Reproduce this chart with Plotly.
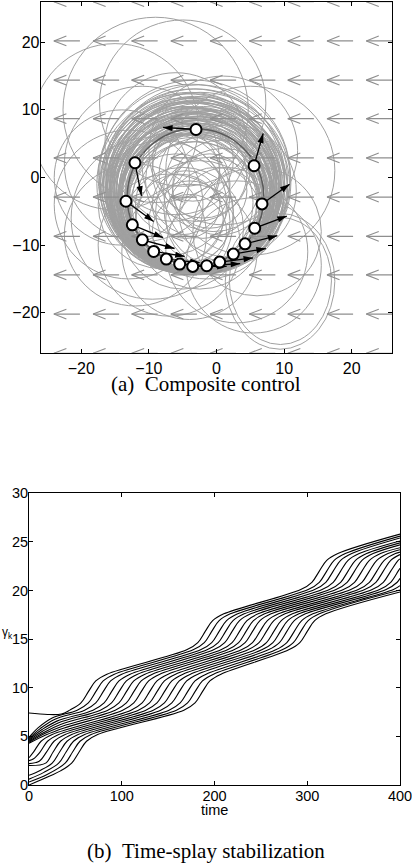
import math
import plotly.graph_objects as go

# ================= Panel (a): composite control =================
field_grid = [-26.0, -20.2, -14.4, -8.7, -2.9, 2.9, 8.7, 14.4, 20.2, 26.0]

formation_cx, formation_cy, formation_r = -3.1, -2.9, 10.1

particle_x = [-3.03, -12.06, 5.55, -13.39, 6.73, -12.45, 5.65, -10.97,
              4.22, -9.29, 2.49, -7.42, 0.47, -5.44, -3.52, -1.45]
particle_y = [7.10, 2.18, 1.74, -3.51, -3.91, -7.00, -7.50, -9.22,
              -9.81, -10.94, -11.33, -12.07, -12.51, -12.81, -13.15, -13.05]
heading_tip_x = [-7.9, -11.1, 6.9, -9.3, 10.8, -7.9, 10.4, -6.2,
                 9.0, -4.7, 7.3, -2.5, 5.4, -0.45, 1.5, 3.5]
heading_tip_y = [7.4, -2.7, 6.5, -6.5, -1.0, -8.9, -5.7, -10.5,
                 -8.6, -11.65, -10.5, -12.6, -11.9, -13.1, -13.15, -12.75]

# trajectory loops (centre x, centre y, radius)
trail_cx = [
    # dense band
    -3.1, -3.6, -2.7, -3.9, -2.9, -3.4, -4.2, -2.5, -3.2, -3.8, -2.3, -4.5,
    -3.0, -3.5, -2.6, -4.1, -3.3, -2.1, -3.9, -2.8, -3.6, -4.4, -3.0, -3.7,
    -3.2, -4.6, -2.0, -4.9, -1.8, -4.0, -2.4, -4.8, -1.9, -3.1, -4.3, -2.4,
    -3.4, -3.7, -3.9, -3.4, -2.8, -3.6, -4.3, -2.7, -3.0,
    -3.3, -4.0, -2.6, -3.5, -4.4, -2.2, -3.1, -4.7, -2.7, -3.8, -2.0, -4.2,
    -3.0, -3.7, -2.5, -4.5, -3.2, -2.2, -3.9, -3.4, -2.9, -3.9, -3.3, -2.9,
    -3.6,
    # loops crossing the interior
    -1.0, -5.5, 0.5, -6.0, -2.0, -4.0, 1.0, -7.0, -3.0, -2.5, 2.0, -8.0,
    -0.5, -5.0, -1.0, -4.5, -6.5, 0.0, -3.5, -1.5, -5.5, -2.0, -4.0, 1.5,
    # wide excursions
    -15.0, -9.0, -5.0, 5.0, -13.0, -12.0, -7.0, -4.0, 3.0, 6.0, -11.0,
    -6.0, 1.0, -14.0, 5.5, -9.5]
trail_cy = [
    -4.3, -4.0, -3.6, -3.8, -3.2, -3.5, -2.8, -3.1, -2.5, -2.9, -2.6, -2.1,
    -2.3, -1.7, -2.0, -1.9, -1.3, -1.6, -1.0, -1.4, -0.7, -0.9, -0.4, 0.0,
    0.3, -3.7, -3.8, -3.0, -2.7, -2.2, -2.4, -1.6, -1.9, -1.6, -1.2, -0.8,
    -4.5, -3.1, -2.4, -1.2, -2.9, -2.0, -3.9, 0.1, -3.3,
    -3.6, -3.4, -3.6, -2.9, -3.1, -2.6, -2.4, -2.6, -2.1, -2.0, -2.2, -1.6,
    -1.9, -1.4, -1.2, -1.5, -0.9, -1.1, -0.6, -0.3, -4.0, -3.6, -2.6, -2.2,
    -1.5,
    -5.0, -1.0, -1.5, -5.0, 0.5, -6.5, -4.5, -2.5, 1.5, -7.0, -2.0, -4.0,
    1.0, -7.5, -2.0, -4.0, 0.5, -6.0, 2.5, -4.5, -6.0, -0.5, -8.0, -5.5,
    7.5, 10.0, 11.0, 1.0, -4.0, -8.5, -10.0, -11.0, -11.0, -8.0, 2.0,
    5.0, 4.0, 0.0, -13.0, -6.0]
trail_r = [
    9.6, 9.9, 10.2, 10.4, 10.6, 10.8, 11.0, 11.1, 11.3, 11.4, 11.6, 11.7,
    11.9, 12.0, 12.2, 12.3, 12.5, 12.6, 12.8, 12.9, 13.1, 13.3, 13.5, 13.8,
    14.1, 10.0, 10.5, 10.9, 11.2, 11.5, 11.8, 12.1, 12.4, 12.7, 13.0, 13.4,
    9.8, 10.7, 11.9, 12.9, 11.3, 12.2, 10.3, 13.6, 11.0,
    10.1, 10.4, 10.6, 10.9, 11.1, 11.2, 11.4, 11.5, 11.7, 11.8, 12.0, 12.1,
    12.3, 12.4, 12.6, 12.7, 12.9, 13.0, 13.2, 13.4, 10.3, 10.8, 11.6, 12.2,
    12.8,
    8.0, 7.5, 7.0, 8.5, 6.5, 6.0, 8.8, 9.0, 8.0, 9.5, 9.8, 9.5,
    9.0, 9.0, 5.5, 5.0, 7.0, 7.5, 6.0, 10.5, 6.5, 8.5, 5.5, 7.0,
    12.3, 13.7, 12.3, 12.5, 11.0, 10.5, 10.5, 10.0, 10.5, 9.5, 11.5,
    10.5, 11.0, 10.0, 10.0, 12.0]
# elongated loops at lower right (bounding boxes)
loop_x0 = [1.3, 1.9]
loop_x1 = [17.5, 17.0]
loop_y0 = [-25.4, -24.7]
loop_y1 = [-5.3, -5.9]

# ================= Panel (b): time-splay stabilization =================
gamma_t = [
    [0, 20, 35, 44, 56, 64, 72, 84, 170, 182, 190, 198, 210, 293, 305, 313, 321, 333, 400],
    [0, 10, 25, 52, 64, 72, 80, 92, 177, 189, 197, 205, 217, 301, 313, 321, 329, 341, 400],
    [0, 12, 28, 60, 72, 80, 88, 100, 185, 197, 205, 213, 225, 308, 320, 328, 336, 348, 400],
    [0, 14, 30, 69, 81, 89, 97, 109, 192, 204, 212, 220, 232, 316, 328, 336, 344, 356, 400],
    [0, 15, 32, 77, 89, 97, 105, 117, 199, 211, 219, 227, 239, 324, 336, 344, 352, 364, 400],
    [0, 16, 34, 85, 97, 105, 113, 125, 207, 219, 227, 235, 247, 331, 343, 351, 359, 371, 400],
    [0, 17, 36, 93, 105, 113, 121, 133, 214, 226, 234, 242, 254, 339, 351, 359, 367, 379, 400],
    [0, 18, 38, 101, 113, 121, 129, 141, 221, 233, 241, 249, 261, 347, 359, 367, 375, 387, 400],
    [0, 5, 13, 25, 110, 122, 130, 138, 150, 229, 241, 249, 257, 269, 355, 367, 375, 383, 395, 400],
    [0, 5, 12, 20, 32, 118, 130, 138, 146, 158, 236, 248, 256, 264, 276, 362, 374, 382, 390, 400],
    [0, 11, 19, 27, 39, 126, 138, 146, 154, 166, 244, 256, 264, 272, 284, 370, 382, 390, 398, 400],
    [0, 18, 26, 34, 46, 134, 146, 154, 162, 174, 251, 263, 271, 279, 291, 378, 390, 398, 400],
    [0, 12, 25, 33, 41, 53, 142, 154, 162, 170, 182, 258, 270, 278, 286, 298, 385, 397, 400],
    [0, 16, 32, 40, 48, 60, 151, 163, 171, 179, 191, 266, 278, 286, 294, 306, 393, 400],
    [0, 20, 39, 47, 55, 67, 159, 171, 179, 187, 199, 273, 285, 293, 301, 313, 400],
    [0, 23, 34, 46, 54, 62, 74, 167, 179, 187, 195, 207, 280, 292, 300, 308, 320, 400],
]
gamma_y = [
    [7.4, 7.25, 7.3, 7.7, 8.45, 9.6, 10.7, 11.4, 13.9, 14.65, 15.8, 16.9, 17.6, 20.1, 20.85, 22.0, 23.1, 23.8, 25.8],
    [4.9, 5.9, 6.9, 7.7, 8.45, 9.6, 10.7, 11.4, 13.9, 14.65, 15.8, 16.9, 17.6, 20.1, 20.85, 22.0, 23.1, 23.8, 25.6],
    [4.8, 5.8, 6.77, 7.7, 8.45, 9.6, 10.7, 11.4, 13.9, 14.65, 15.8, 16.9, 17.6, 20.1, 20.85, 22.0, 23.1, 23.8, 25.4],
    [4.7, 5.7, 6.57, 7.7, 8.45, 9.6, 10.7, 11.4, 13.9, 14.65, 15.8, 16.9, 17.6, 20.1, 20.85, 22.0, 23.1, 23.8, 25.1],
    [4.6, 5.55, 6.4, 7.7, 8.45, 9.6, 10.7, 11.4, 13.9, 14.65, 15.8, 16.9, 17.6, 20.1, 20.85, 22.0, 23.1, 23.8, 24.9],
    [4.5, 5.4, 6.22, 7.7, 8.45, 9.6, 10.7, 11.4, 13.9, 14.65, 15.8, 16.9, 17.6, 20.1, 20.85, 22.0, 23.1, 23.8, 24.7],
    [4.4, 5.3, 6.05, 7.7, 8.45, 9.6, 10.7, 11.4, 13.9, 14.65, 15.8, 16.9, 17.6, 20.1, 20.85, 22.0, 23.1, 23.8, 24.4],
    [4.3, 5.15, 5.87, 7.7, 8.45, 9.6, 10.7, 11.4, 13.9, 14.65, 15.8, 16.9, 17.6, 20.1, 20.85, 22.0, 23.1, 23.8, 24.2],
    [2.8, 3.4, 4.5, 5.2, 7.7, 8.45, 9.6, 10.7, 11.4, 13.9, 14.65, 15.8, 16.9, 17.6, 20.1, 20.85, 22.0, 23.1, 23.8, 23.95],
    [2.5, 2.7, 3.4, 4.5, 5.2, 7.7, 8.45, 9.6, 10.7, 11.4, 13.9, 14.65, 15.8, 16.9, 17.6, 20.1, 20.85, 22.0, 23.1, 23.7],
    [2.2, 2.45, 3.4, 4.5, 5.2, 7.7, 8.45, 9.6, 10.7, 11.4, 13.9, 14.65, 15.8, 16.9, 17.6, 20.1, 20.85, 22.0, 23.1, 23.25],
    [2.0, 2.25, 3.4, 4.5, 5.2, 7.7, 8.45, 9.6, 10.7, 11.4, 13.9, 14.65, 15.8, 16.9, 17.6, 20.1, 20.85, 22.0, 22.3],
    [1.0, 1.5, 2.25, 3.4, 4.5, 5.2, 7.7, 8.45, 9.6, 10.7, 11.4, 13.9, 14.65, 15.8, 16.9, 17.6, 20.1, 20.85, 21.25],
    [0.6, 1.3, 2.25, 3.4, 4.5, 5.2, 7.7, 8.45, 9.6, 10.7, 11.4, 13.9, 14.65, 15.8, 16.9, 17.6, 20.1, 20.5],
    [0.3, 1.1, 2.25, 3.4, 4.5, 5.2, 7.7, 8.45, 9.6, 10.7, 11.4, 13.9, 14.65, 15.8, 16.9, 17.6, 20.05],
    [0.0, 0.95, 1.45, 2.25, 3.4, 4.5, 5.2, 7.7, 8.45, 9.6, 10.7, 11.4, 13.9, 14.65, 15.8, 16.9, 17.6, 19.85],
]

a_ticks = [-20, -10, 0, 10, 20]
b_xticks = [0, 100, 200, 300, 400]
b_yticks = [0, 5, 10, 15, 20, 25, 30]

# ---------------- styles ----------------
W, H = 412, 867
SANS = "Liberation Sans, Arial, Helvetica, sans-serif"
SERIF = "Liberation Serif, Times New Roman, serif"
FIELD_COLOR = "#8e8e8e"
TRAIL_COLOR = "#a0a0a0"
ARROW_LEN = 3.85
HEAD_DX, HEAD_DY = 1.85, 0.72

fig = go.Figure()

# gray drift field (arrows pointing left)
fx, fy = [], []
for gx in field_grid:
    for gy in field_grid:
        tip = gx - ARROW_LEN
        fx += [gx, tip, None, tip + HEAD_DX, tip, tip + HEAD_DX, None]
        fy += [gy, gy, None, gy + HEAD_DY, gy, gy - HEAD_DY, None]
fig.add_trace(go.Scatter(x=fx, y=fy, mode="lines", xaxis="x", yaxis="y",
                         line=dict(color=FIELD_COLOR, width=1.1),
                         hoverinfo="skip", showlegend=False))

# heading arrows (shafts + heads)
sx, sy, angles = [], [], []
for px, py, tx, ty in zip(particle_x, particle_y, heading_tip_x, heading_tip_y):
    sx += [px, tx, None]
    sy += [py, ty, None]
    angles.append(math.degrees(math.atan2(tx - px, ty - py)))
fig.add_trace(go.Scatter(x=sx, y=sy, mode="lines", xaxis="x", yaxis="y",
                         line=dict(color="black", width=1.3),
                         hoverinfo="skip", showlegend=False))
fig.add_trace(go.Scatter(x=heading_tip_x, y=heading_tip_y, mode="markers",
                         xaxis="x", yaxis="y",
                         marker=dict(symbol="arrow", size=10, angle=angles,
                                     color="black", line=dict(width=0)),
                         hoverinfo="skip", showlegend=False))

# particles
fig.add_trace(go.Scatter(x=particle_x, y=particle_y, mode="markers",
                         xaxis="x", yaxis="y",
                         marker=dict(symbol="circle", size=11, color="white",
                                     line=dict(color="black", width=2)),
                         hoverinfo="skip", showlegend=False))

# panel (b) curves
for tt, yy in zip(gamma_t, gamma_y):
    fig.add_trace(go.Scatter(x=tt, y=yy, mode="lines", xaxis="x2", yaxis="y2",
                             line=dict(color="black", width=1.1, shape="spline",
                                       smoothing=1.0),
                             hoverinfo="skip", showlegend=False))

shapes = []
for cx, cy, r in zip(trail_cx, trail_cy, trail_r):
    shapes.append(dict(type="circle", xref="x", yref="y", layer="below",
                       x0=cx - r, x1=cx + r, y0=cy - r, y1=cy + r,
                       line=dict(color=TRAIL_COLOR, width=1)))
for x0, x1, y0, y1 in zip(loop_x0, loop_x1, loop_y0, loop_y1):
    shapes.append(dict(type="circle", xref="x", yref="y", layer="below",
                       x0=x0, x1=x1, y0=y0, y1=y1,
                       line=dict(color=TRAIL_COLOR, width=1)))
shapes.append(dict(type="circle", xref="x", yref="y", layer="below",
                   x0=formation_cx - formation_r, x1=formation_cx + formation_r,
                   y0=formation_cy - formation_r, y1=formation_cy + formation_r,
                   line=dict(color="#5a5a5a", width=1.5)))

axis_common = dict(showgrid=False, zeroline=False, showline=True, mirror="ticks",
                   linecolor="black", linewidth=1, ticks="inside", ticklen=4,
                   tickcolor="black", tickwidth=1, automargin=False,
                   ticklabeloverflow="allow")

fig.update_layout(
    width=W, height=H,
    margin=dict(l=0, r=0, t=0, b=0, autoexpand=False),
    paper_bgcolor="white", plot_bgcolor="white",
    showlegend=False,
    shapes=shapes,
    xaxis=dict(domain=[40.7 / W, 392.3 / W], range=[-26, 26], anchor="y",
               tickvals=a_ticks, tickfont=dict(family=SANS, size=16, color="black"),
               **axis_common),
    yaxis=dict(domain=[1 - 353.3 / H, 1 - 1.7 / H], range=[-26, 26], anchor="x",
               tickvals=a_ticks, tickfont=dict(family=SANS, size=16, color="black"),
               ticklabelstandoff=-3, **axis_common),
    xaxis2=dict(domain=[29 / W, 400 / W], range=[0, 400], anchor="y2",
                tickvals=b_xticks, tickfont=dict(family=SANS, size=14.5, color="black"),
                ticklabelstandoff=-2, **axis_common),
    yaxis2=dict(domain=[1 - 785 / H, 1 - 493.3 / H], range=[0, 30], anchor="x2",
                tickvals=b_yticks, tickfont=dict(family=SANS, size=14.5, color="black"),
                ticklabelstandoff=-3, **axis_common),
    annotations=[
        dict(text="(a)\u00a0\u00a0Composite control", xref="paper", yref="paper",
             x=206 / W, y=1 - 384 / H, xanchor="center", yanchor="middle",
             showarrow=False, font=dict(family=SERIF, size=21, color="black")),
        dict(text="(b)\u00a0\u00a0Time-splay stabilization", xref="paper", yref="paper",
             x=206 / W, y=1 - 851 / H, xanchor="center", yanchor="middle",
             showarrow=False, font=dict(family=SERIF, size=21, color="black")),
        dict(text="time", xref="paper", yref="paper",
             x=214 / W, y=1 - 810 / H, xanchor="center", yanchor="middle",
             showarrow=False, font=dict(family=SANS, size=14.5, color="black")),
        dict(text="γ<sub>k</sub>", xref="paper", yref="paper",
             x=0 / W, y=1 - 633 / H, xanchor="left", yanchor="middle",
             showarrow=False, font=dict(family=SANS, size=12, color="black")),
    ],
)

fig.write_html("out.html",
               config={"displayModeBar": False},
               post_script="document.body.style.margin='0px';"
                           "document.body.style.overflow='hidden';")
